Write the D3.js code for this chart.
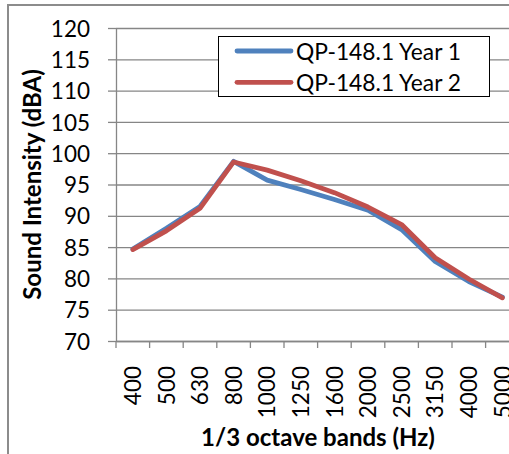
<!DOCTYPE html>
<html>
<head>
<meta charset="utf-8">
<script src="https://cdn.jsdelivr.net/npm/d3@7"></script>
<style>
  html, body { margin: 0; padding: 0; background: #fff; }
  svg { display: block; }
  text { font-family: Lato, "Open Sans", sans-serif; fill: #000; }
</style>
</head>
<body>
<script>
const categories = ["400","500","630","800","1000","1250","1600","2000","2500","3150","4000","5000"];
const year1 = [84.7, 88.0, 91.5, 98.7, 95.7, 94.2, 92.6, 90.9, 87.8, 82.7, 79.5, 77.0];
const year2 = [84.6, 87.6, 91.2, 98.6, 97.3, 95.6, 93.7, 91.4, 88.6, 83.3, 79.9, 76.9];
const seriesNames = ["QP-148.1 Year 1", "QP-148.1 Year 2"];
const seriesColors = ["#4F81BD", "#C0504D"];
const yTicks = [70, 75, 80, 85, 90, 95, 100, 105, 110, 115, 120];
const xTitle = "1/3 octave bands (Hz)";
const yTitle = "Sound Intensity (dBA)";

const W = 509, H = 454;
const plotLeft = 116, plotTop = 28, plotBottom = 341, bandW = 33.6;
const plotRight = plotLeft + bandW * categories.length;

const svg = d3.select("body").append("svg").attr("width", W).attr("height", H);
svg.append("rect").attr("width", W).attr("height", H).attr("fill", "#fff");

// outer chart border (cropped on right/bottom)
svg.append("rect").attr("x", 8).attr("y", 5).attr("width", 700).attr("height", 600)
  .attr("fill", "none").attr("stroke", "#8c8c8c").attr("stroke-width", 2);

const x = d3.scaleBand().domain(categories).range([plotLeft, plotRight]).padding(0);
const y = d3.scaleLinear().domain([70, 120]).range([plotBottom, plotTop]);

const axisColor = "#868686";

// gridlines
const grid = svg.append("g").attr("transform", `translate(${plotLeft},0)`)
  .call(d3.axisLeft(y).tickValues(yTicks).tickSize(-(plotRight - plotLeft)).tickFormat(""));
grid.select(".domain").remove();
grid.selectAll("line").attr("stroke", axisColor).attr("stroke-width", 1.3);

// y axis with outward ticks and labels
const yAxis = svg.append("g").attr("transform", `translate(${plotLeft},0)`)
  .call(d3.axisLeft(y).tickValues(yTicks).tickSize(8).tickSizeOuter(0).tickPadding(18));
yAxis.select(".domain").attr("stroke", axisColor).attr("stroke-width", 1.3);
yAxis.selectAll("line").attr("stroke", axisColor).attr("stroke-width", 1.3);
yAxis.selectAll("text").style("font-size", "22.5px").style("font-family", "Lato, sans-serif")
  .attr("fill", "#000").attr("dy", "0.36em");

// x axis baseline and boundary ticks
const xAxis = svg.append("g").attr("transform", `translate(0,${plotBottom})`)
  .call(d3.axisBottom(x).tickSize(0).tickPadding(0));
xAxis.select(".domain").attr("stroke", axisColor).attr("stroke-width", 1.3);
xAxis.selectAll("text")
  .style("font-size", "22.5px").style("font-family", "Lato, sans-serif")
  .attr("fill", "#000")
  .attr("text-anchor", "end")
  .attr("transform", "translate(0,25) rotate(-90)")
  .attr("x", 0).attr("y", 0).attr("dy", "0.36em");
svg.append("g").selectAll("line").data(categories).join("line")
  .attr("x1", d => x(d)).attr("x2", d => x(d))
  .attr("y1", plotBottom).attr("y2", plotBottom + 7)
  .attr("stroke", axisColor).attr("stroke-width", 1.3);

// series lines
const line = d3.line().x((d, i) => x(categories[i]) + x.bandwidth() / 2).y(d => y(d));
[year1, year2].forEach((s, k) => {
  svg.append("path").datum(s).attr("d", line)
    .attr("fill", "none").attr("stroke", seriesColors[k]).attr("stroke-width", 4.8)
    .attr("stroke-linejoin", "round").attr("stroke-linecap", "round");
});

// axis titles
svg.append("text").attr("x", 318).attr("y", 446).attr("text-anchor", "middle")
  .style("font-size", "24px").style("font-weight", "bold").text(xTitle);
svg.append("text").attr("transform", `translate(41,${(plotTop + plotBottom) / 2}) rotate(-90)`)
  .attr("text-anchor", "middle")
  .style("font-size", "24px").style("font-weight", "bold").text(yTitle);

// legend
const lg = svg.append("g");
lg.append("rect").attr("x", 218.5).attr("y", 36.5).attr("width", 271).attr("height", 60)
  .attr("fill", "#fff").attr("stroke", "#000").attr("stroke-width", 1);
seriesNames.forEach((name, k) => {
  const cy = 51 + k * 31.3;
  lg.append("line").attr("x1", 237).attr("x2", 291).attr("y1", cy).attr("y2", cy)
    .attr("stroke", seriesColors[k]).attr("stroke-width", 4.8).attr("stroke-linecap", "round");
  lg.append("text").attr("x", 296).attr("y", cy + 8.5)
    .style("font-size", "22.8px").text(name);
});
</script>
</body>
</html>
